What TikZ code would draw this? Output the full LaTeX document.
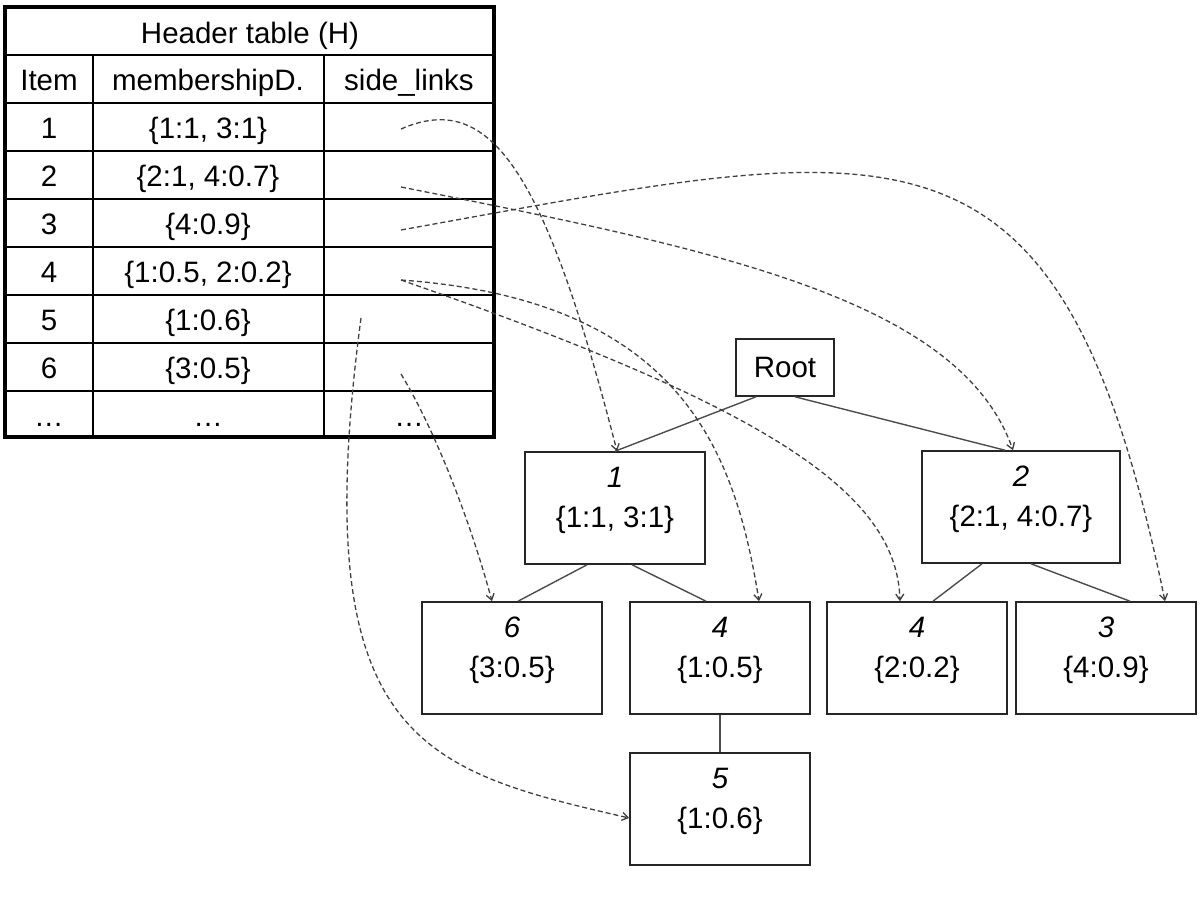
\documentclass[tikz,border=0pt]{standalone}
\usepackage{fontspec}
\setmainfont{Liberation Sans}
\usepackage{tikz}
\usetikzlibrary{arrows.meta, calc}

\begin{document}
\begin{tikzpicture}[x=1pt, y=-1pt,
  txt/.style={font=\fontsize{29.5}{40}\selectfont, inner sep=0pt},
  cell/.style={txt, anchor=base},
  treebox/.style={txt, draw=black!85, line width=1.6pt, minimum width=180pt, minimum height=112pt, align=center},
  branch/.style={draw=black!70, line width=1.4pt},
  sidelink/.style={draw=black!75, line width=1.3pt, dash pattern=on 5pt off 3pt, -{Straight Barb[length=6pt,width=8pt]}}]
  \useasboundingbox (0,0) rectangle (1200,900);
  % header table
  \foreach \y in {55,103,...,391}
    \draw[line width=1.5pt] (5,\y) -- (494,\y);
  \draw[line width=1.5pt] (93,55) -- (93,437);
  \draw[line width=1.5pt] (324,55) -- (324,437);
  \draw[line width=4pt] (5,7) rectangle (494,437);
  \node[cell] (title) at (250,43) {Header table (H)};
  \node[cell] (hitem) at (49,90) {Item};
  \node[cell] (hmd) at (208,90) {membershipD.};
  \node[cell] (hsl) at (409,90) {side\_links};
  \foreach \i/\m in {1/{\{1:1, 3:1\}}, 2/{\{2:1, 4:0.7\}}, 3/{\{4:0.9\}},
      4/{\{1:0.5, 2:0.2\}}, 5/{\{1:0.6\}}, 6/{\{3:0.5\}}} {
    \node[cell] (item\i) at (49,{90+48*\i}) {\i};
    \node[cell] (md\i) at (208,{90+48*\i}) {\m};
  }
  \node[cell] (item7) at (49,426) {\dots};
  \node[cell] (md7) at (208,426) {\dots};
  \node[cell] (sl7) at (409,426) {\dots};
  % start points of the side links
  \coordinate (s1) at (401,129);
  \coordinate (s2) at (401,187);
  \coordinate (s3) at (401,230);
  \coordinate (s4) at (401,280);
  \coordinate (s5) at (361,318);
  \coordinate (s6) at (401,374);
  % tree
  \node[txt, draw=black!85, line width=1.6pt, minimum width=98pt, minimum height=57pt] (root) at (785,367.5) {Root};
  \node[treebox] (n1) at (615,508) {\strut\textit{1}\\\strut\{1:1, 3:1\}\\[-22pt]\strut};
  \node[treebox, minimum width=198pt] (n2) at (1021,507) {\strut\textit{2}\\\strut\{2:1, 4:0.7\}\\[-22pt]\strut};
  \node[treebox] (n6) at (512,658) {\strut\textit{6}\\\strut\{3:0.5\}\\[-22pt]\strut};
  \node[treebox] (n4a) at (720,658) {\strut\textit{4}\\\strut\{1:0.5\}\\[-22pt]\strut};
  \node[treebox] (n4b) at (917,658) {\strut\textit{4}\\\strut\{2:0.2\}\\[-22pt]\strut};
  \node[treebox] (n3) at (1106,658) {\strut\textit{3}\\\strut\{4:0.9\}\\[-22pt]\strut};
  \node[treebox] (n5) at (720,809) {\strut\textit{5}\\\strut\{1:0.6\}\\[-22pt]\strut};
  \draw[branch] ([xshift=-29pt]root.south) -- (n1.north);
  \draw[branch] ([xshift=10pt]root.south) -- ([xshift=-16pt]n2.north);
  \draw[branch] ([xshift=-28pt]n1.south) -- ([xshift=6pt]n6.north);
  \draw[branch] ([xshift=17pt]n1.south) -- ([xshift=-14pt]n4a.north);
  \draw[branch] ([xshift=-39pt]n2.south) -- ([xshift=16pt]n4b.north);
  \draw[branch] ([xshift=10pt]n2.south) -- ([xshift=24pt]n3.north);
  \draw[branch] (n4a.south) -- (n5.north);
  % side links
  \draw[sidelink] (s1) .. controls (490,90) and (545,170) .. ([xshift=2pt]n1.north);
  \draw[sidelink] (s2) .. controls (720,250) and (960,300) .. ([xshift=-8pt]n2.north);
  \draw[sidelink] (s3) .. controls (901,140) and (1060,90) .. ([xshift=59pt]n3.north);
  \draw[sidelink] (s4) .. controls (680,300) and (735,450) .. ([xshift=39pt]n4a.north);
  \draw[sidelink] (s4) .. controls (760,405) and (897,490) .. ([xshift=-17pt]n4b.north);
  \draw[sidelink] (s5) .. controls (305,740) and (420,770) .. ([yshift=-9pt]n5.west);
  \draw[sidelink] (s6) .. controls (435,430) and (470,520) .. ([xshift=-20pt]n6.north);
\end{tikzpicture}
\end{document}
